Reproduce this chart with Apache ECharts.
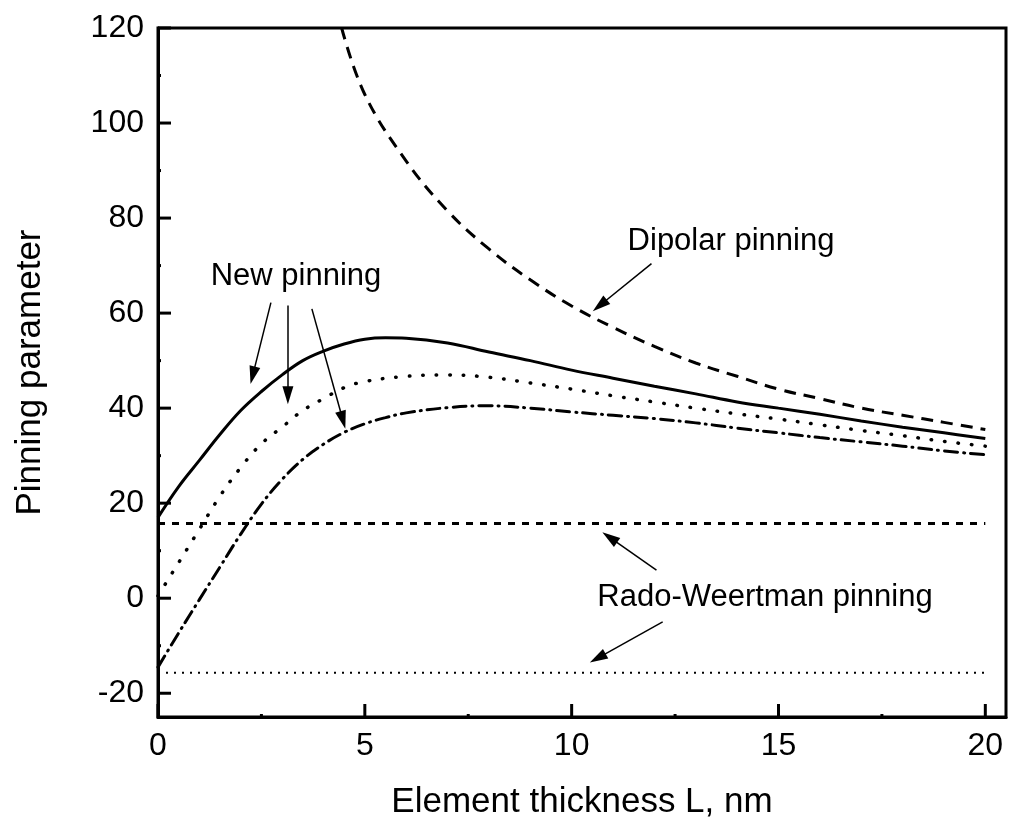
<!DOCTYPE html>
<html>
<head>
<meta charset="utf-8">
<script src="https://cdn.jsdelivr.net/npm/echarts@6/dist/echarts.min.js"></script>
<style>
html,body{margin:0;padding:0;background:#fff;}
#chart{width:1012px;height:827px;}
</style>
</head>
<body>
<div id="chart"></div>
<script>
// ---- data ----
const newSolidX = [0,0.5,1,1.5,2,2.5,3,3.5,4,4.5,5,5.5,6,7,8,9,10,11,12,13,14,15,16,17,18,19,20];
const newSolidY = [17,23.5,29,34.5,39.5,43.5,47,50,52,53.5,54.5,54.8,54.7,53.7,51.8,50,48,46.3,44.6,43,41.3,40,38.7,37.3,36,34.8,33.6];

const newDotX = [0,0.5,1,1.5,2,2.5,3,3.5,4,4.5,5,6,7,8,9,10,11,12,13,14,15,16,17,18,19,20];
const newDotY = [0.5,7.5,14.5,21.5,27.5,32.5,36,39.5,42,44.3,45.6,46.7,47,46.5,45.3,44,42.6,41.3,40,38.8,37.7,36.5,35.3,34.2,33,32];

const newDashDotX = [0,0.5,1,1.5,2,2.5,3,3.5,4,4.5,5,5.5,6,7,8,9,10,11,12,13,14,15,16,17,18,19,20];
const newDashDotY = [-14.5,-7.3,-0.3,6.6,13.5,19.8,25,29.2,32.4,34.9,36.7,38,39,40.1,40.5,40,39.2,38.5,37.8,36.9,35.8,34.8,33.8,32.9,32,31,30.2];

const dipolarX = [4.44,5,6,7,8,9,10,11,12,13,14,15,16,17,18,19,20];
const dipolarY = [120,106,92,81.5,73.5,67,61.5,57,53,49.5,46.7,44,42,40,38.5,37,35.5];

const radoUpperX = [0,20];
const radoUpperY = [15.7,15.7];
const radoLowerX = [0,20];
const radoLowerY = [-15.7,-15.7];

const xMajorTicks = [0,5,10,15,20];
const xMinorTicks = [2.5,7.5,12.5,17.5];
const yMajorTicks = [-20,0,20,40,60,80,100,120];
const yMinorTicks = [-10,10,30,50,70,90,110];

// arrows: [fromX, fromY, toX, toY] in data units
const arrowsNew = [[2.73,62.2,2.29,46.9],[3.14,61.6,3.14,42.7],[3.72,60.9,4.47,37.5]];
const arrowDipolar = [[11.93,70.4,10.68,61.6]];
const arrowsRado = [[12.05,5.9,10.92,12.8],[12.2,-5.0,10.63,-12.6]];

const FONT = 'Liberation Sans, Arial, sans-serif';

function zip(xs, ys){ return xs.map((x,i)=>[x, ys[i]]); }

const chart = echarts.init(document.getElementById('chart'), null, {renderer:'canvas'});

function tickSeries(vals, axis, len){
  return {
    type:'custom',
    silent:true,
    z:5,
    data: vals.map(v => axis==='x' ? [v, -25] : [0, v]),
    renderItem: function(params, api){
      const p = api.coord([api.value(0), api.value(1)]);
      let shape;
      if(axis==='x') shape = {x1:p[0], y1:p[1], x2:p[0], y2:p[1]-len};
      else shape = {x1:p[0], y1:p[1], x2:p[0]+len, y2:p[1]};
      return {type:'line', shape:shape, style:{stroke:'#000', lineWidth:3}};
    }
  };
}

function arrowLines(arr){
  return arr.map(a => [{coord:[a[0],a[1]]},{coord:[a[2],a[3]]}]);
}

const arrowSeries = {
  type:'line',
  data:[],
  markLine:{
    silent:true,
    animation:false,
    symbol:['none','triangle'],
    symbolSize:[11,18],
    label:{show:false},
    lineStyle:{color:'#000', width:1.5, type:'solid'},
    data: arrowLines(arrowsNew).concat(arrowLines(arrowDipolar), arrowLines(arrowsRado))
  }
};

const option = {
  animation:false,
  backgroundColor:'#fff',
  grid:{left:158, right:6, top:28, bottom:110, show:true, borderColor:'#000', borderWidth:3, backgroundColor:'transparent'},
  xAxis:{
    type:'value', min:0, max:20.5, interval:5,
    axisLine:{show:true, onZero:false, lineStyle:{color:'#000', width:3}},
    axisTick:{show:false},
    splitLine:{show:false},
    axisLabel:{color:'#000', fontSize:32, fontFamily:FONT, margin:13,
      formatter: v => (Math.abs(v % 5) < 1e-9 ? String(v) : '')},
    name:'Element thickness L, nm', nameLocation:'middle', nameGap:68,
    nameTextStyle:{color:'#000', fontSize:35, fontFamily:FONT}
  },
  yAxis:{
    type:'value', min:-25, max:120, interval:5,
    axisLine:{show:true, onZero:false, lineStyle:{color:'#000', width:3}},
    axisTick:{show:false},
    splitLine:{show:false},
    axisLabel:{color:'#000', fontSize:32, fontFamily:FONT, margin:14,
      formatter: v => (Math.abs(v % 20) < 1e-9 ? String(v) : '')},
    name:'Pinning parameter', nameLocation:'middle', nameGap:110,
    nameTextStyle:{color:'#000', fontSize:35, fontFamily:FONT}
  },
  series:[
    {type:'line', data:zip(dipolarX, dipolarY), smooth:0.4, showSymbol:false, clip:true,
      lineStyle:{color:'#000', width:3, type:[12,8]}},
    {type:'line', data:zip(newSolidX, newSolidY), smooth:0.4, showSymbol:false,
      lineStyle:{color:'#000', width:3, type:'solid'}},
    {type:'line', data:zip(newDotX, newDotY), smooth:0.4, showSymbol:false,
      lineStyle:{color:'#000', width:3.5, type:[0.5,13], cap:'round'}},
    {type:'line', data:zip(newDashDotX, newDashDotY), smooth:0.4, showSymbol:false,
      lineStyle:{color:'#000', width:3, type:[13,6,1,6], cap:'round'}},
    {type:'line', data:zip(radoUpperX, radoUpperY), showSymbol:false,
      lineStyle:{color:'#000', width:3, type:[7,7]}},
    {type:'line', data:zip(radoLowerX, radoLowerY), showSymbol:false,
      lineStyle:{color:'#000', width:2, type:[2,6]}},
    tickSeries(xMajorTicks,'x',13),
    tickSeries(xMinorTicks,'x',3),
    tickSeries(yMajorTicks,'y',13),
    tickSeries(yMinorTicks,'y',3),
    arrowSeries
  ],
  graphic:[
    {type:'text', x:296, y:276, style:{text:'New pinning', font:'31px '+FONT, fill:'#000', textAlign:'center', textVerticalAlign:'middle'}},
    {type:'text', x:731, y:241, style:{text:'Dipolar pinning', font:'31px '+FONT, fill:'#000', textAlign:'center', textVerticalAlign:'middle'}},
    {type:'text', x:765, y:597, style:{text:'Rado-Weertman pinning', font:'31px '+FONT, fill:'#000', textAlign:'center', textVerticalAlign:'middle'}}
  ]
};
chart.setOption(option);
</script>
</body>
</html>
